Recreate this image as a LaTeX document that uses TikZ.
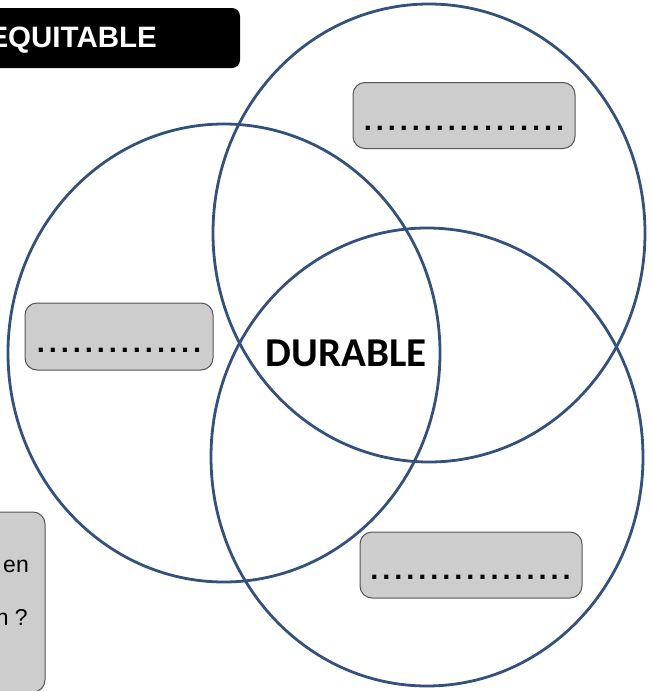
\documentclass[tikz,border=0pt]{standalone}
\usepackage{fontspec}
\setmainfont{Liberation Sans}
\newfontfamily\durablefont{Carlito}
\newcommand{\dotrow}[1]{\hbox to #1{\xleaders\hbox to 12pt{\hss.\hss}\hfill}}

\begin{document}
\begin{tikzpicture}[x=1pt,y=-1pt,
  venn/.style={draw=vennblue,line width=2.8pt},
  graybox/.style={rectangle,rounded corners=12pt,draw=boxline,fill=boxgray,line width=1pt,inner sep=0pt},
  titlebox/.style={rectangle,rounded corners=8pt,fill=black,inner sep=0pt},
  dotline/.style={anchor=base,inner sep=0pt,font=\fontsize{29}{30}\selectfont\bfseries},
  side/.style={anchor=base east,inner sep=0pt,font=\fontsize{23}{26}\selectfont}]
\definecolor{vennblue}{RGB}{52,80,124}
\definecolor{boxgray}{RGB}{205,205,205}
\definecolor{boxline}{RGB}{85,85,85}
\def\rX{216}
\def\rY{229}
\useasboundingbox (0,0) rectangle (652,691);
\clip (0,0) rectangle (652,691);

% three sets
\draw[venn] (429,233) ellipse ({\rX pt} and {\rY pt});
\draw[venn] (224,353) ellipse ({\rX pt} and {\rY pt});
\draw[venn] (427,457) ellipse ({\rX pt} and {\rY pt});

\path
(110,38) node [titlebox,minimum width=260pt,minimum height=60pt] (equi) {}
(157,47.5) node [anchor=base east,inner sep=0pt,text=white,font=\fontsize{29.5}{32}\selectfont\bfseries] (equiText) {EQUITABLE}
(464,115.5) node [graybox,minimum width=222pt,minimum height=66pt] (boxTop) {}
(464,130) node [dotline] (dotsTop) {\dotrow{204pt}}
(119,336.5) node [graybox,minimum width=188pt,minimum height=67pt] (boxLeft) {}
(119,352) node [dotline] (dotsLeft) {\dotrow{168pt}}
(471,565) node [graybox,minimum width=222pt,minimum height=66pt] (boxBottom) {}
(470.5,579) node [dotline] (dotsBottom) {\dotrow{204pt}}
(12,602) node [graybox,minimum width=66pt,minimum height=180pt] (boxQuestion) {}
(29,572) node [side] (lineOne) {en}
(28,625) node [side] (lineTwo) {n ?}
(346,353) node [inner sep=0pt,font=\durablefont\fontsize{41}{46}\selectfont\bfseries] (durable) {DURABLE}
;
\end{tikzpicture}
\end{document}
